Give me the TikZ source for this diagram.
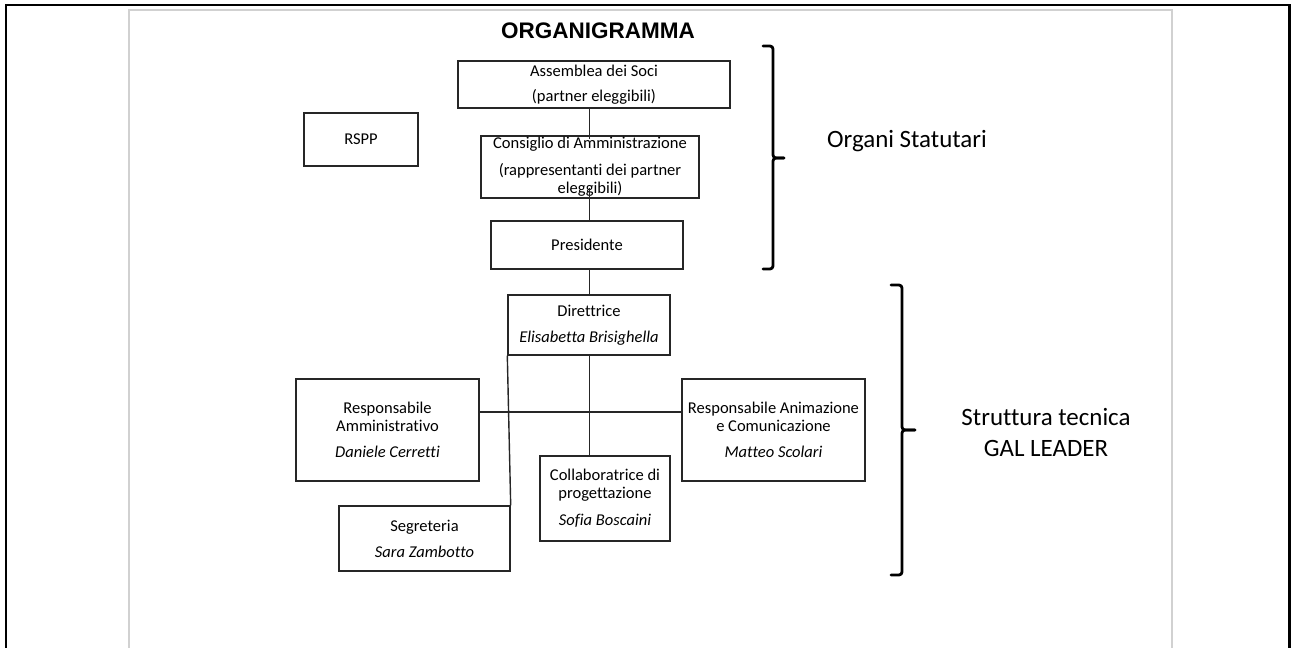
\documentclass[tikz,border=0pt]{standalone}
\usepackage{fontspec}
\setmainfont{Carlito}[Ligatures=NoCommon]
\newfontfamily\arialf{Liberation Sans}
\begin{document}
\begin{tikzpicture}[x=0.02cm,y=-0.02cm,
  box/.style={draw=black!85, line width=0.8pt, align=center, inner sep=0pt,
    font=\fontsize{9.4}{10.2}\selectfont},
  conn/.style={draw=black!85, line width=0.8pt},
  brace/.style={draw=black, line width=1.6pt, line join=round, line cap=round},
  side/.style={align=center, font=\fontsize{14.2}{17.5}\selectfont}]
\useasboundingbox (0,0) rectangle (1291,648);
% page frames
\draw[line width=1.7pt] (6,652) -- (6,5) -- (1289,5) -- (1289,652);
\draw[black!18, line width=1.2pt] (129,652) -- (129,10) -- (1172,10) -- (1172,652);
% title
\node[font=\arialf\bfseries\fontsize{12.8}{14}\selectfont] (title) at (598,31) {ORGANIGRAMMA};
% boxes
\node[box, minimum width=5.44cm, minimum height=0.94cm] (ass) at (594,84.5)
  {Assemblea dei Soci\\[4pt](partner eleggibili)};
\node[box, minimum width=4.36cm, minimum height=1.24cm] (cons) at (590,167)
  {Consiglio di Amministrazione\\[5pt](rappresentanti dei partner\\eleggibili)};
\node[box, minimum width=3.84cm, minimum height=0.96cm] (pres) at (587,245) {Presidente};
\node[box, minimum width=2.28cm, minimum height=1.06cm] (rspp) at (361,139.5) {RSPP};
\node[box, minimum width=3.24cm, minimum height=1.2cm] (dir) at (589,325)
  {Direttrice\\[4.5pt]\itshape Elisabetta Brisighella};
\node[box, minimum width=3.66cm, minimum height=2.04cm] (ramm) at (387.5,430)
  {Responsabile\\Amministrativo\\[5pt]\itshape Daniele Cerretti};
\node[box, minimum width=3.66cm, minimum height=2.04cm] (ranim) at (773.5,430)
  {Responsabile Animazione\\e Comunicazione\\[5pt]\itshape Matteo Scolari};
\node[box, minimum width=2.6cm, minimum height=1.7cm] (col) at (605,498.5)
  {Collaboratrice di\\progettazione\\[5pt]\itshape Sofia Boscaini};
\node[box, minimum width=3.42cm, minimum height=1.3cm] (seg) at (424.5,538.5)
  {Segreteria\\[4.5pt]\itshape Sara Zambotto};
% connectors
\coordinate (sp) at (589.5,0);
\coordinate (hl) at (0,412);
\draw[conn] (ass.south -| sp) -- ([yshift=-4*0.02cm]cons.north -| sp);
\draw[conn] ([yshift=11*0.02cm]cons.south -| sp) -- (pres.north -| sp);
\draw[conn] (pres.south -| sp) -- (dir.north -| sp);
\draw[conn] (dir.south -| sp) -- (col.north -| sp);
\draw[conn] (ramm.east |- hl) -- (ranim.west |- hl);
\draw[conn] (dir.south west) -- (seg.north east);
% braces
\draw[brace] (763,46) -- (770,46) to[out=0,in=90] (773,49) -- (773,155)
  to[out=-90,in=180] (776,158) -- (784,158);
\draw[brace] (784,158) -- (776,158) to[out=180,in=90] (773,161) -- (773,266)
  to[out=-90,in=0] (770,269) -- (763,269);
\draw[brace] (891,285) -- (899,285) to[out=0,in=90] (902,288) -- (902,427)
  to[out=-90,in=180] (905,430) -- (915,430);
\draw[brace] (915,430) -- (905,430) to[out=180,in=90] (902,433) -- (902,572)
  to[out=-90,in=0] (899,575) -- (891,575);
\node[side] (org) at (907,141) {Organi Statutari};
\node[side] (str) at (1046,432.5) {Struttura tecnica\\GAL LEADER};
\end{tikzpicture}
\end{document}
